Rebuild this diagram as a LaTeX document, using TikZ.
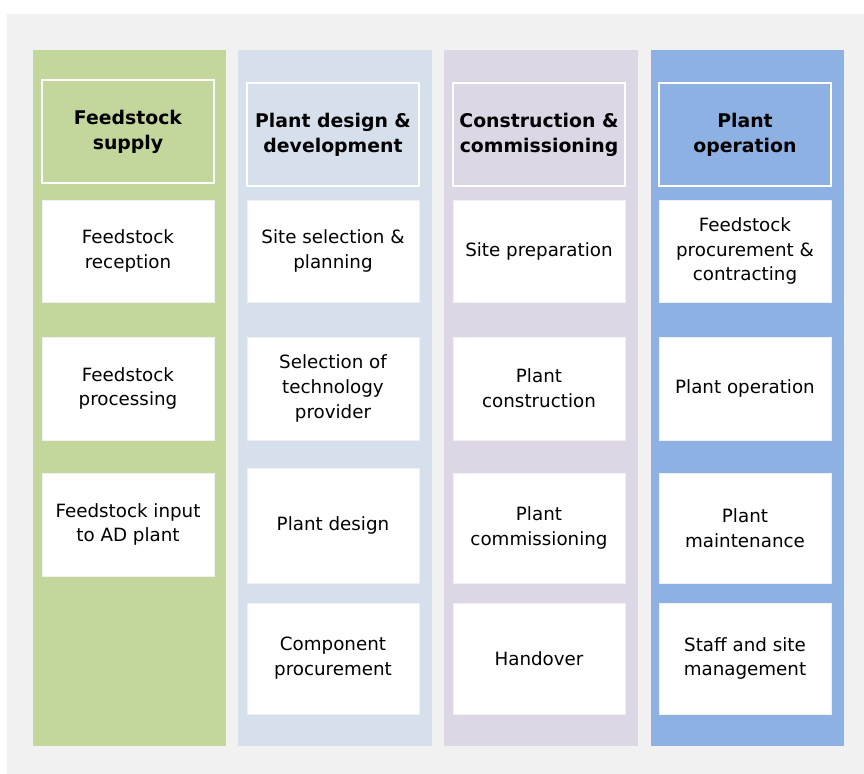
\documentclass[tikz,border=0pt]{standalone}
\usepackage{fontspec}
\setmainfont{DejaVu Sans}

\definecolor{pagegrey}{HTML}{F1F1F1}
\definecolor{feedgreen}{HTML}{C3D69B}
\definecolor{designblue}{HTML}{D6E0EC}
\definecolor{buildlilac}{HTML}{DDD7E5}
\definecolor{opblue}{HTML}{8DB1E2}

\tikzset{
  lane/.style={fill=#1, inner sep=0pt, minimum width=4.825cm, minimum height=17.4cm},
  head/.style={fill=#1, draw=white, line width=0.8pt, inner sep=0pt,
    minimum width=4.3cm, minimum height=2.575cm, align=center,
    font=\fontsize{13.4}{17.7}\selectfont\bfseries},
  task/.style={fill=white, draw=black!6, inner sep=0pt,
    minimum width=4.3cm, minimum height=#1, align=center,
    font=\fontsize{13}{17.7}\selectfont},
  task/.default=2.575cm
}

\begin{document}
\begin{tikzpicture}[x=0.025cm, y=-0.025cm]
  % page and grey panel
  \fill[white] (0,0) rectangle (864,774);
  \fill[pagegrey] (7,14) rectangle (864,774);

  % the four lanes
  \node[lane=feedgreen]  (lane1) at (129.5,398) {};
  \node[lane=designblue] (lane2) at (335,398) {};
  \node[lane=buildlilac] (lane3) at (541,398) {};
  \node[lane=opblue]     (lane4) at (747.5,398) {};

  % lane headers
  \node[head=feedgreen]  (supply)  at (128,131.5) {Feedstock\\supply};
  \node[head=designblue] (design)  at (333,134.5) {Plant design \&\\development};
  \node[head=buildlilac] (build)   at (539,134.5) {Construction \&\\commissioning};
  \node[head=opblue]     (operate) at (745,134.5) {Plant\\operation};

  % feedstock supply
  \node[task=2.55cm] (reception)  at (128,251)   {Feedstock\\reception};
  \node[task]        (processing) at (128,388.5) {Feedstock\\processing};
  \node[task]        (input)      at (128,524.5) {Feedstock input\\to AD plant};

  % plant design
  \node[task=2.55cm]  (siting)     at (333,251)   {Site selection \&\\planning};
  \node[task]         (provider)   at (333,388.5) {Selection of\\technology\\provider};
  \node[task=2.875cm] (plandesign) at (333,525.5) {Plant design};
  \node[task=2.775cm] (components) at (333,658.5) {Component\\procurement};

  % construction
  \node[task=2.55cm] (siteprep)   at (539,251)   {Site preparation};
  \node[task]        (construct)  at (539,388.5) {Plant\\construction};
  \node[task=2.75cm] (commission) at (539,528)   {Plant\\commissioning};
  \node[task=2.775cm](handover)   at (539,658.5) {Handover};

  % operation
  \node[task=2.55cm] (contracting) at (745,251)   {Feedstock\\procurement \&\\contracting};
  \node[task]        (running)     at (745,388.5) {Plant operation};
  \node[task=2.75cm] (maintenance) at (745,528)   {Plant\\maintenance};
  \node[task=2.775cm](staffing)    at (745,658.5) {Staff and site\\management};
\end{tikzpicture}
\end{document}
